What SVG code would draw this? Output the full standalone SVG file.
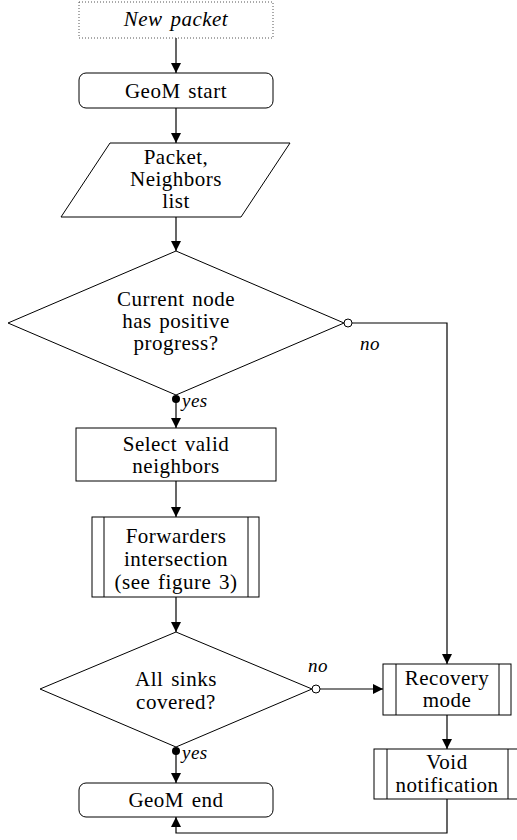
<svg xmlns="http://www.w3.org/2000/svg" width="517" height="840" viewBox="0 0 517 840">
  <style>
    .shape { fill: #fff; stroke: #000; stroke-width: 1; }
    .dotted { fill: #fff; stroke: #555; stroke-width: 1; stroke-dasharray: 1 2; }
    .edge { fill: none; stroke: #000; stroke-width: 1.2; }
    .t { font-family: "Liberation Serif", "Times New Roman", serif; font-size: 21px; letter-spacing: 0.5px; word-spacing: 2px; text-anchor: middle; fill: #000; }
    .it { font-style: italic; }
    .lbl { font-family: "Liberation Serif", "Times New Roman", serif; font-size: 19px; font-style: italic; letter-spacing: 0.5px; fill: #000; }
  </style>
  <defs>
    <marker id="arrow" viewBox="0 0 10 10" refX="10" refY="5" markerWidth="10" markerHeight="10" markerUnits="userSpaceOnUse" orient="auto">
      <path d="M0,0 L10,5 L0,10 z" fill="#000"/>
    </marker>
  </defs>

  <rect width="517" height="840" fill="#fff"/>

  <!-- flow connectors, branch markers and yes/no labels -->
  <g id="connectors">
    <line class="edge" x1="176" y1="38" x2="176" y2="73" marker-end="url(#arrow)"/>
    <line class="edge" x1="176" y1="108" x2="176" y2="143" marker-end="url(#arrow)"/>
    <line class="edge" x1="176" y1="217" x2="176" y2="251" marker-end="url(#arrow)"/>
    <line class="edge" x1="176" y1="399" x2="176" y2="428" marker-end="url(#arrow)"/>
    <line class="edge" x1="176" y1="481" x2="176" y2="517" marker-end="url(#arrow)"/>
    <line class="edge" x1="176" y1="597" x2="176" y2="632" marker-end="url(#arrow)"/>
    <line class="edge" x1="176" y1="751" x2="176" y2="783" marker-end="url(#arrow)"/>
    <polyline class="edge" points="352,323 447,323 447,664" marker-end="url(#arrow)"/>
    <line class="edge" x1="320" y1="689" x2="383" y2="689" marker-end="url(#arrow)"/>
    <line class="edge" x1="447" y1="715" x2="447" y2="749" marker-end="url(#arrow)"/>
    <polyline class="edge" points="447,799 447,833 176,833 176,817" marker-end="url(#arrow)"/>
    <circle cx="348" cy="323" r="4" fill="#fff" stroke="#000"/>
    <circle cx="176" cy="399" r="4" fill="#000"/>
    <circle cx="316" cy="689" r="4" fill="#fff" stroke="#000"/>
    <circle cx="176" cy="751" r="4" fill="#000"/>
    <text class="lbl" x="360" y="350">no</text>
    <text class="lbl" x="182" y="407">yes</text>
    <text class="lbl" x="308" y="672">no</text>
    <text class="lbl" x="182" y="759">yes</text>
  </g>

  <g id="new-packet">
    <rect class="dotted" x="79" y="2" width="194" height="36"/>
    <text class="t it" x="176" y="26">New packet</text>
  </g>

  <g id="geom-start">
    <rect class="shape" x="79" y="73" width="194" height="35" rx="7"/>
    <text class="t" x="176" y="98">GeoM start</text>
  </g>

  <g id="input">
    <polygon class="shape" points="110,143 290,143 241,217 61,217"/>
    <text class="t" x="176" y="164">Packet,</text>
    <text class="t" x="176" y="186">Neighbors</text>
    <text class="t" x="176" y="208">list</text>
  </g>

  <g id="positive-progress">
    <polygon class="shape" points="176,251 344,323 176,395 8,323"/>
    <text class="t" x="176" y="306">Current node</text>
    <text class="t" x="176" y="328">has positive</text>
    <text class="t" x="176" y="350">progress?</text>
  </g>

  <g id="select-neighbors">
    <rect class="shape" x="76" y="428" width="200" height="53"/>
    <text class="t" x="176" y="451">Select valid</text>
    <text class="t" x="176" y="473">neighbors</text>
  </g>

  <g id="forwarders-intersection">
    <rect class="shape" x="92" y="517" width="167" height="80"/>
    <line class="shape" x1="104" y1="517" x2="104" y2="597"/>
    <line class="shape" x1="248" y1="517" x2="248" y2="597"/>
    <text class="t" x="176" y="543">Forwarders</text>
    <text class="t" x="176" y="566">intersection</text>
    <text class="t" x="176" y="589">(see figure 3)</text>
  </g>

  <g id="sinks-covered">
    <polygon class="shape" points="176,632 312,689 176,747 40,689"/>
    <text class="t" x="176" y="686">All sinks</text>
    <text class="t" x="176" y="709">covered?</text>
  </g>

  <g id="recovery-mode">
    <rect class="shape" x="383" y="664" width="128" height="51"/>
    <line class="shape" x1="396" y1="664" x2="396" y2="715"/>
    <line class="shape" x1="499" y1="664" x2="499" y2="715"/>
    <text class="t" x="447" y="685">Recovery</text>
    <text class="t" x="447" y="707">mode</text>
  </g>

  <g id="void-notification">
    <rect class="shape" x="374" y="749" width="150" height="50"/>
    <line class="shape" x1="387" y1="749" x2="387" y2="799"/>
    <line class="shape" x1="508" y1="749" x2="508" y2="799"/>
    <text class="t" x="447" y="769">Void</text>
    <text class="t" x="447" y="792">notification</text>
  </g>

  <g id="geom-end">
    <rect class="shape" x="79" y="783" width="194" height="34" rx="7"/>
    <text class="t" x="176" y="807">GeoM end</text>
  </g>
</svg>
